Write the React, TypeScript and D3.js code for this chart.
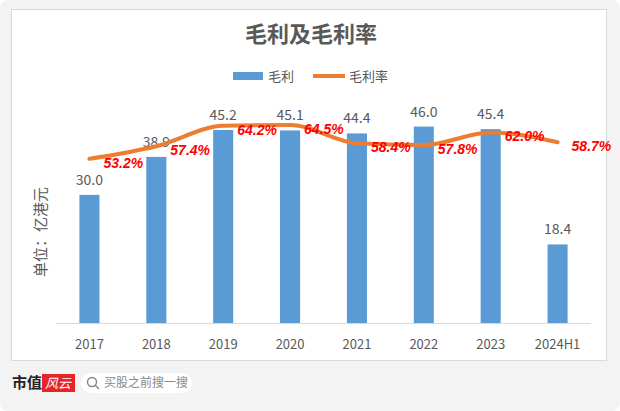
import * as d3 from "d3";

const categories = ["2017", "2018", "2019", "2020", "2021", "2022", "2023", "2024H1"];
const grossProfit = [30.0, 38.9, 45.2, 45.1, 44.4, 46.0, 45.4, 18.4];
const grossMargin = [53.2, 57.4, 64.2, 64.5, 58.4, 57.8, 62.0, 58.7];

const W = 620;
const H = 411;
const FONT = "'Noto Sans CJK SC', 'Microsoft YaHei', sans-serif";

export default function App() {
  const x = d3.scaleBand<string>().domain(categories).range([56, 591]).paddingInner(0.7).paddingOuter(0.35);
  const y = d3.scaleLinear().domain([0, 45.2]).range([323, 130]);
  const y2 = d3.scaleLinear().domain([-1.5, 62.8]).range([323, 130]);
  const cx = (c: string) => (x(c) ?? 0) + x.bandwidth() / 2;

  const line = d3
    .line<number>()
    .x((_d, i) => cx(categories[i]))
    .y((d) => y2(d))
    .curve(d3.curveMonotoneX);

  return (
    <svg width={W} height={H} style={{ position: "absolute", left: 0, top: 0 }}>
      <rect x={0} y={0} width={W} height={H} rx={8} fill="#f3f3f3" />
      <rect x={11.5} y={9.5} width={595} height={351} fill="#fff" stroke="#d9d9d9" />
      <text x={311} y={42} textAnchor="middle" fontSize={22} fontWeight="bold" fill="#595959" fontFamily={FONT}>
        毛利及毛利率
      </text>
      {/* legend */}
      <rect x={233} y={72} width={30} height={8} fill="#5b9bd5" />
      <text x={268} y={81} fontSize={13} fill="#595959" fontFamily={FONT}>毛利</text>
      <line x1={313} x2={345} y1={76} y2={76} stroke="#ed7d31" strokeWidth={4} />
      <text x={349} y={81} fontSize={13} fill="#595959" fontFamily={FONT}>毛利率</text>

      <text
        transform="translate(46,232) rotate(-90)"
        textAnchor="middle"
        fontSize={15}
        fill="#595959"
        fontFamily={FONT}
      >
        单位：亿港元
      </text>

      <line x1={56} x2={591} y1={323.5} y2={323.5} stroke="#d9d9d9" />

      {categories.map((c, i) => (
        <g key={c}>
          <rect x={x(c)} y={y(grossProfit[i])} width={x.bandwidth()} height={323 - y(grossProfit[i])} fill="#5b9bd5" />
          <text x={cx(c)} y={y(grossProfit[i]) - 10} textAnchor="middle" fontSize={14} fill="#595959" fontFamily={FONT}>
            {grossProfit[i].toFixed(1)}
          </text>
          <text x={cx(c)} y={349} textAnchor="middle" fontSize={13} fill="#595959" fontFamily={FONT}>
            {c}
          </text>
        </g>
      ))}

      <path d={line(grossMargin) ?? ""} fill="none" stroke="#ed7d31" strokeWidth={4} strokeLinecap="round" />
      {categories.map((c, i) => (
        <text
          key={c}
          x={cx(c) + 14}
          y={y2(grossMargin[i]) + 9}
          fontSize={14}
          fontWeight="bold"
          fontStyle="italic"
          fill="#ff0000"
          fontFamily="'Liberation Sans', Arial, sans-serif"
        >
          {grossMargin[i].toFixed(1)}%
        </text>
      ))}

      {/* footer */}
      <text x={12} y={388} fontSize={15} fontWeight="bold" fill="#222" fontFamily="'Noto Sans CJK SC', serif">市值</text>
      <rect x={42} y={374} width={33} height={18} fill="#e8232a" />
      <text x={58} y={388} textAnchor="middle" fontSize={13} fontStyle="italic" fill="#fff" fontFamily={FONT}>风云</text>
      <rect x={81} y={373} width={111} height={20} rx={10} fill="#fff" />
      <circle cx={92} cy={382} r={4.5} fill="none" stroke="#888" strokeWidth={1.5} />
      <line x1={95} y1={385} x2={99} y2={389} stroke="#888" strokeWidth={1.5} />
      <text x={104} y={387} fontSize={12} fill="#888" fontFamily={FONT}>买股之前搜一搜</text>
    </svg>
  );
}
